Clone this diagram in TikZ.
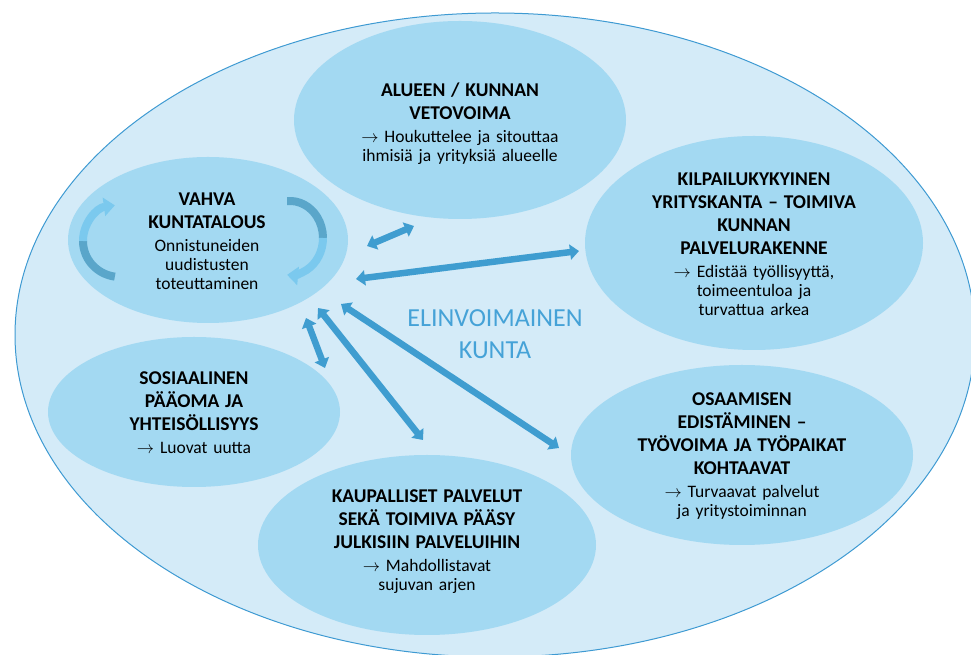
\documentclass[tikz,border=0pt]{standalone}
\usepackage{fontspec}
\setmainfont{Carlito}
\usepackage{tikz}
\usetikzlibrary{arrows.meta}
\usetikzlibrary{shapes.geometric}
\definecolor{outerfill}{HTML}{D4EBF8}
\definecolor{outerline}{HTML}{3E9AD2}
\definecolor{innerfill}{HTML}{A3D9F2}
\definecolor{linkblue}{HTML}{3F9DD0}
\definecolor{titleblue}{HTML}{45A2D7}
\definecolor{cycdark}{HTML}{5AA6CA}
\definecolor{cyclight}{HTML}{7BC9EE}
\setlength{\parindent}{0pt}
\setlength{\parskip}{0pt}
\newcommand{\hd}[1]{{\bfseries\fontsize{19.5}{23}\selectfont #1\par}\vspace{4pt}}
\newcommand{\ar}{$\rightarrow$ }
\tikzset{
    area/.style={
        ellipse,
        fill=innerfill,
        inner sep=0pt
    },
    lbl/.style={
        text width=250pt,
        align=center,
        inner sep=0pt,
        text=black,
        font=\fontsize{17.5}{19}\selectfont
    },
    link/.style={
        draw=linkblue,
        line width=6.5pt,
        {Triangle[width=15pt,length=9pt]}-{Triangle[width=15pt,length=9pt]}
    }
}

\begin{document}
\begin{tikzpicture}[x=1pt,y=1pt]
  \tikzset{
    turn/.style={
      line width=8pt
    },
    tip/.style={
      -{Triangle[width=18pt,length=11pt]}
    }
  }
  \useasboundingbox (0,0) rectangle (971,655);
  \clip (0,0) rectangle (971,655);

  \node[ellipse, draw=outerline, fill=outerfill, line width=1pt, inner sep=0pt,
        minimum width=960, minimum height=644] (kunta) at (495,320) {};

  \node[area, minimum width=332, minimum height=198] (alueen) at (460,535) {};
  \node[area, minimum width=280, minimum height=166] (vahva) at (208,415) {};
  \node[area, minimum width=338, minimum height=214] (kilpailu) at (754,412) {};
  \node[area, minimum width=292, minimum height=150] (sosiaalinen) at (194,243) {};
  \node[area, minimum width=338, minimum height=180] (kaupalliset) at (427,110) {};
  \node[area, minimum width=342, minimum height=180] (osaamisen) at (742,200) {};

  \node[lbl] (alueen-t) at (460,531) {\hd{ALUEEN / KUNNAN\\VETOVOIMA}\ar Houkuttelee ja sitouttaa\\ihmisiä ja yrityksiä alueelle};
  \node[lbl] (vahva-t) at (207,414) {\hd{VAHVA\\KUNTATALOUS}Onnistuneiden\\uudistusten\\toteuttaminen};
  \node[lbl] (kilpailu-t) at (754,411) {\hd{KILPAILUKYKYINEN\\YRITYSKANTA – TOIMIVA\\KUNNAN\\PALVELURAKENNE}\ar Edistää työllisyyttä,\\toimeentuloa ja\\turvattua arkea};
  \node[lbl] (sosiaalinen-t) at (194,242) {\hd{SOSIAALINEN\\PÄÄOMA JA\\YHTEISÖLLISYYS}\ar Luovat uutta};
  \node[lbl] (kaupalliset-t) at (427,113) {\hd{KAUPALLISET PALVELUT\\SEKÄ TOIMIVA PÄÄSY\\JULKISIIN PALVELUIHIN}\ar Mahdollistavat\\sujuvan arjen};
  \node[lbl] (osaamisen-t) at (742,199) {\hd{OSAAMISEN\\EDISTÄMINEN –\\TYÖVOIMA JA TYÖPAIKAT\\KOHTAAVAT}\ar Turvaavat palvelut\\ja yritystoiminnan};

  \node[align=center, text=titleblue, font=\fontsize{26}{32}\selectfont] (title) at (495,321) {ELINVOIMAINEN\\KUNTA};

  % arrows out of the economy ellipse
  \coordinate (a1s) at (367,409); \coordinate (a1e) at (414,429);
  \coordinate (a2s) at (356,376); \coordinate (a2e) at (579,404);
  \coordinate (a3s) at (306,337); \coordinate (a3e) at (325,287);
  \coordinate (a4s) at (318,347); \coordinate (a4e) at (423,215);
  \coordinate (a5s) at (341,351); \coordinate (a5e) at (559,207);
  \draw[link] (a1s) -- (a1e);
  \draw[link] (a2s) -- (a2e);
  \draw[link] (a3s) -- (a3e);
  \draw[link] (a4s) -- (a4e);
  \draw[link] (a5s) -- (a5e);

  % turning arrows
  \coordinate (cycl) at (120,414);
  \coordinate (cycr) at (290,417);
  \draw[turn, draw=cycdark] (cycl) ++(262:37 and 36) arc[start angle=262, end angle=180, x radius=37, y radius=36];
  \draw[turn, tip, draw=cyclight] (cycl) ++(180:37 and 36) arc[start angle=180, end angle=98, x radius=37, y radius=36];
  \draw[turn, draw=cycdark] (cycr) ++(95:33 and 37) arc[start angle=95, end angle=0, x radius=33, y radius=37];
  \draw[turn, tip, draw=cyclight] (cycr) ++(0:33 and 37) arc[start angle=0, end angle=-95, x radius=33, y radius=37];
\end{tikzpicture}
\end{document}
